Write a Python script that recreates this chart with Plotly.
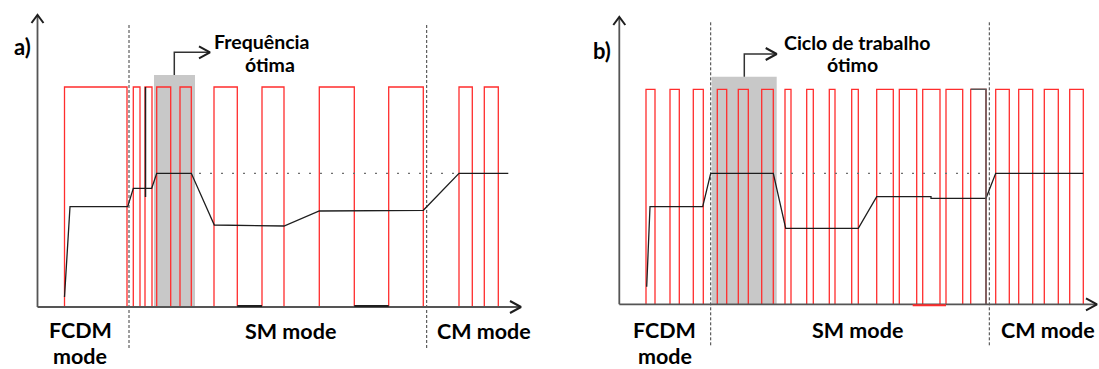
import plotly.graph_objects as go

# ---------------- data (time units / amplitude units) ----------------
# Panel a) : frequency modulation
a_pulses = [(27, 89.5), (95.8, 102.5), (107.5, 114.5), (119.2, 133.2), (142.5, 153.8),
            (176.5, 199.8), (224.5, 246.5), (281.8, 316.8), (351.2, 385.8),
            (421.5, 434.8), (446.8, 460.8)]
a_high = 220
a_avg_t = [27, 32.5, 90.2, 95.8, 114.2, 119.2, 153.8, 176.8, 246.5, 281.8, 385.8, 421.5, 470.8]
a_avg_v = [10, 100.3, 100.3, 118.7, 118.7, 133.7, 133.7, 82, 81, 96, 96.7, 133.7, 133.7]
a_black_low = [(199.8, 224.5), (316.8, 351.2)]
a_spike = (108, 220, 110)          # t, top, bottom
a_optimum = 133.7
a_opt_span = (161.5, 421.5)
a_mode_bounds = [91.5, 389.2]
a_shade = (116.5, 157.5, 232)
a_bracket = (136.8, 254.7, 172.5)
a_axis_end = (483.5, 292)

# Panel b) : duty-cycle modulation
b_pulses = [(26.7, 35.7), (50.7, 60), (74, 84), (98, 107.4), (119, 129), (142.4, 154),
            (165.7, 171.7), (187.4, 194), (210, 215.7), (232.4, 239), (257.4, 274),
            (280, 297.4), (303.4, 320.7), (326.7, 343.4), (351.4, 366.7), (376.4, 390),
            (399.4, 413.4), (425, 439), (450.4, 464)]
b_high = 215
b_avg_t = [27.4, 30.7, 83.4, 91.4, 154, 166.4, 239, 257.4, 311.7, 311.7, 366.7, 376.4, 464]
b_avg_v = [17.6, 97.6, 97.6, 131, 131, 76, 76, 107.6, 107.6, 106, 106, 131, 131]
b_red_low = [(293.4, 326.7)]
b_gray_pulse = (351.4, 366.7)
b_optimum = 131
b_opt_span = (160.7, 370.7)
b_mode_bounds = [91.4, 370]
b_shade = (92.4, 157.4, 227.6)
b_bracket = (125, 250.3, 157.4)
b_axis_end = (477.7, 287.3)

mode_labels = ["FCDM", "mode", "SM mode", "CM mode"]

# ---------------- figure ----------------
W, H = 1099, 369
# origin of each panel inside the page (pixels) -> axis ranges
ax_a = dict(x0=37.5, y0=307)
ax_b = dict(x0=619.3, y0=304.3)

RED = "rgb(255,45,45)"
BLK = "rgb(30,30,30)"
AXC = "rgb(85,85,85)"
FONT = "Lato"

fig = go.Figure()


def add(xs, ys, color, width, xa, ya, dash=None):
    fig.add_trace(go.Scatter(x=xs, y=ys, mode="lines", xaxis=xa, yaxis=ya,
                             line=dict(color=color, width=width, dash=dash),
                             hoverinfo="skip", showlegend=False))


def pulses_path(pulses, high):
    xs, ys = [], []
    for r, f in pulses:
        xs += [r, r, f, f, None]
        ys += [0, high, high, 0, None]
    return xs, ys


def panel(xr, yref, pulses, high, avg_t, avg_v, optimum, opt_span, bounds, shade,
          bracket, axis_end, label, label_pos, top1, top2, top_pos, labels_pos):
    # shaded optimum window
    fig.add_shape(type="rect", xref=xr, yref=yref, x0=shade[0], x1=shade[1], y0=0, y1=shade[2],
                  fillcolor="rgb(200,200,200)", line=dict(width=0), layer="below")
    # pulses
    xs, ys = pulses_path(pulses, high)
    add(xs, ys, RED, 1.3, xr, yref)
    # mode boundaries
    for b in bounds:
        add([b, b], [-41, 282], "rgb(60,60,60)", 1, xr, yref, dash="3px,2px")
    # optimum level
    add(list(opt_span), [optimum, optimum], "rgb(110,110,110)", 1.2, xr, yref, dash="2px,9px")
    # average output
    add(avg_t, avg_v, BLK, 1.3, xr, yref)
    # axes with open arrowheads
    xe, ye = axis_end
    add([0, 0], [0, ye], AXC, 1.8, xr, yref)
    add([0, xe], [0, 0], AXC, 1.8, xr, yref)
    add([-6, 0, 6], [ye - 8, ye, ye - 8], BLK, 2, xr, yref)
    add([xe - 11, xe, xe - 11], [6, 0, -6], BLK, 2, xr, yref)
    # bracket arrow
    bx, by, bend = bracket
    add([bx, bx, bend], [shade[2], by, by], "rgb(50,50,50)", 1.5, xr, yref)
    add([bend - 11, bend, bend - 11], [by + 6, by, by - 6], BLK, 2, xr, yref)
    # texts
    fig.add_annotation(x=label_pos[0], y=label_pos[1], xref=xr, yref=yref, text=label,
                       showarrow=False,
                       font=dict(family=FONT, size=22, color="black", weight="bold"))
    (t1x, t1y), (t2x, t2y) = top_pos
    fig.add_annotation(x=t1x, y=t1y, xref=xr, yref=yref, text=top1, showarrow=False,
                       font=dict(family=FONT, size=19.5, color="black", weight="bold"))
    fig.add_annotation(x=t2x, y=t2y, xref=xr, yref=yref, text=top2, showarrow=False,
                       font=dict(family=FONT, size=19.5, color="black", weight="bold"))
    for txt, (lx, ly) in zip(mode_labels, labels_pos):
        fig.add_annotation(x=lx, y=ly, xref=xr, yref=yref, text=txt, showarrow=False,
                           font=dict(family=FONT, size=21.5, color="black", weight="bold"),
                           borderpad=0)


panel("x", "y", a_pulses, a_high, a_avg_t, a_avg_v, a_optimum, a_opt_span,
      a_mode_bounds, a_shade, a_bracket, a_axis_end, "a)", (-15.5, 260.5),
      "Frequência", "ótima",
      [(223.5, 266), (232.5, 243)],
      [(42.5, -23), (42.5, -49), (253.3, -24), (446, -24)])
# black details of panel a
xs, ys = [], []
for s, e in a_black_low:
    xs += [s, e, None]
    ys += [1, 1, None]
add(xs, ys, BLK, 2, "x", "y")
add([a_spike[0], a_spike[0]], [a_spike[1], a_spike[2]], BLK, 1.5, "x", "y")

panel("x2", "y2", b_pulses, b_high, b_avg_t, b_avg_v, b_optimum, b_opt_span,
      b_mode_bounds, b_shade, b_bracket, b_axis_end, "b)", (-17.6, 254.3),
      "Ciclo de trabalho", "ótimo",
      [(238.2, 262.3), (233.2, 240.3)],
      [(45.2, -25.7), (45.2, -51.7), (237.7, -26), (428.7, -26)])
# details of panel b
xs, ys = [], []
for s, e in b_red_low:
    xs += [s, e, None]
    ys += [-1, -1, None]
add(xs, ys, RED, 2, "x2", "y2")
add([b_gray_pulse[0], b_gray_pulse[1], b_gray_pulse[1]], [b_high, b_high, 0],
    "rgb(90,90,90)", 1.5, "x2", "y2")

hidden = dict(visible=False, showgrid=False, zeroline=False, fixedrange=True)
fig.update_layout(
    width=W, height=H, margin=dict(l=0, r=0, t=0, b=0),
    paper_bgcolor="white", plot_bgcolor="rgba(0,0,0,0)",
    xaxis=dict(hidden, domain=[0, 1], range=[-ax_a["x0"], W - ax_a["x0"]], anchor="y"),
    yaxis=dict(hidden, domain=[0, 1], range=[-(H - ax_a["y0"]), ax_a["y0"]], anchor="x"),
    xaxis2=dict(hidden, domain=[0, 1], range=[-ax_b["x0"], W - ax_b["x0"]], anchor="y2"),
    yaxis2=dict(hidden, domain=[0, 1], range=[-(H - ax_b["y0"]), ax_b["y0"]], anchor="x2"),
)

fig.write_html("out.html", config={"displayModeBar": False},
               post_script="document.body.style.margin='0';document.body.style.overflow='hidden';")
